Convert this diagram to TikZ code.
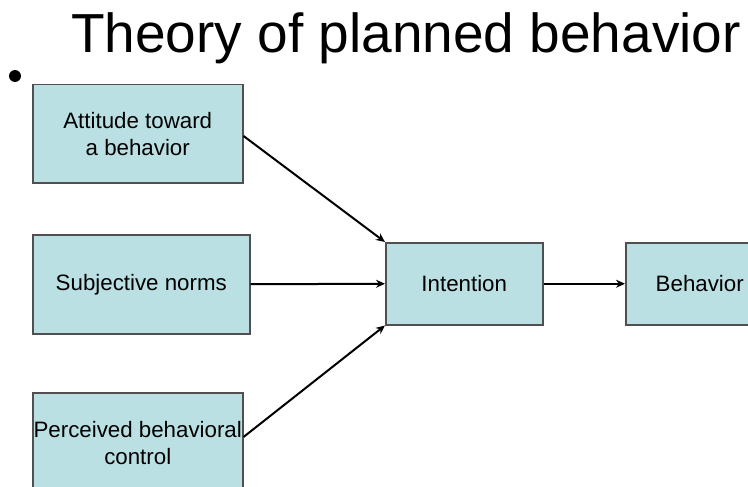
\documentclass[tikz,border=0pt]{standalone}
\usepackage{fontspec}
\setmainfont{Liberation Sans}
\usetikzlibrary{arrows.meta}
\definecolor{boxfill}{HTML}{BBE0E3}
\definecolor{boxline}{HTML}{505050}
\begin{document}
\begin{tikzpicture}[x=1pt,y=-1pt,
  box/.style={draw=boxline,line width=1.5pt,fill=boxfill,inner sep=0pt,anchor=north west,
    font=\fontsize{22.3}{27}\selectfont,align=center},
  conn/.style={line width=2pt,-{Stealth[length=9pt,width=8pt]}}]
\useasboundingbox (0,0) rectangle (748,487);
\clip (0,0) rectangle (748,487);
\node[anchor=base,font=\fontsize{55}{60}\selectfont,inner sep=0pt] (title) at (406,53) {Theory of planned behavior};
\fill (15,76) circle (6);
\node[box,minimum width=210pt,minimum height=98pt] (att) at (32,84) {Attitude toward\\ a behavior};
\node[box,minimum width=217pt,minimum height=99pt] (sub) at (32,234) {Subjective norms};
\node[box,minimum width=210pt,minimum height=100pt] (per) at (32,392) {Perceived behavioral\\control};
\node[box,minimum width=157pt,minimum height=82pt] (int) at (385,242) {Intention};
\node[box,minimum width=157pt,minimum height=82pt] (beh) at (625,242) {Behavior\rule{9pt}{0pt}};
\coordinate (a1) at ([yshift=-52pt]att.north east);
\coordinate (p1) at ([yshift=-45pt]per.north east);
\draw[conn] (a1) -- (int.north west);
\draw[conn] (sub.east) -- (int.west);
\draw[conn] (p1) -- (int.south west);
\draw[conn] (int.east) -- (beh.west);
\end{tikzpicture}
\end{document}
